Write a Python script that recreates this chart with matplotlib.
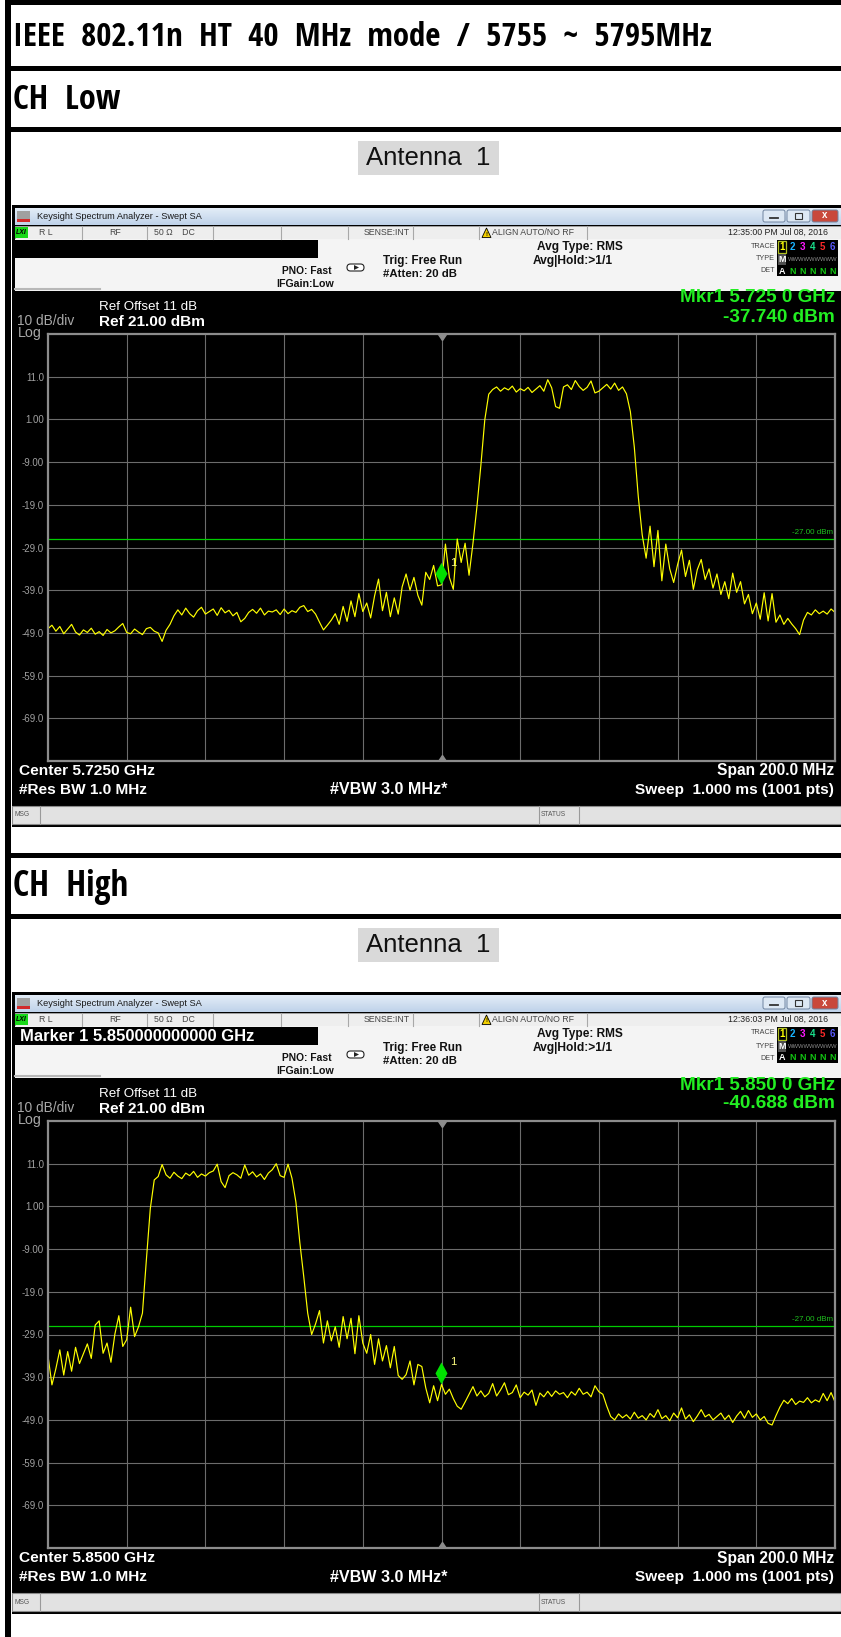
import numpy as np
import matplotlib.pyplot as plt
from matplotlib import font_manager
from matplotlib.patches import Rectangle, Polygon, FancyBboxPatch
from matplotlib.colors import to_rgb

W, H, DPI = 841, 1637, 100

# document text
DOC_TITLE = "IEEE  802.11n  HT  40  MHz  mode  /  5755  ~  5795MHz"
CHANNELS = ["CH  Low", "CH  High"]
ANTENNA = "Antenna  1"

# analyzer settings
CENTER_GHZ = [5.725, 5.850]
SPAN_MHZ = 200.0
REF_DBM = 21.0
DB_DIV = 10.0
LIMIT_DBM = -27.0
MKR_DBM = [-37.740, -40.688]
STAMPS = ["12:35:00 PM Jul 08, 2016", "12:36:03 PM Jul 08, 2016"]
MARKER_LINE = ["", "Marker 1 5.850000000000 GHz"]
Y_TICK_LABELS = ["11.0", "1.00", "-9.00", "-19.0", "-29.0", "-39.0", "-49.0", "-59.0", "-69.0"]

# trace 1, 1 MHz steps across the span (dBm)
TRACE_LOW = [
    -48.0, -47.2, -48.6, -47.5, -49.2, -48.1, -47.0, -48.8, -49.5, -48.3,
    -48.9, -47.9, -49.3, -48.7, -49.6, -48.2, -49.0, -48.5, -47.6, -46.8,
    -48.9, -49.2, -48.1, -48.8, -49.4, -48.0, -47.7, -48.6, -49.0, -51.0,
    -48.4, -47.0, -45.0, -43.6, -44.8, -43.2, -44.5, -45.3, -43.8, -43.0,
    -44.6, -44.0, -43.4, -44.9, -43.1, -44.3, -43.7, -45.0, -44.2, -46.4,
    -45.6, -44.2, -43.5, -44.4, -43.2, -44.8, -43.9, -44.1, -43.6, -44.7,
    -43.4, -44.5, -43.8, -44.2, -43.0, -42.6, -44.0, -43.5, -44.6, -46.5,
    -48.3, -47.2, -46.0, -44.5, -47.0, -42.8, -46.3, -41.5, -45.2, -39.8,
    -44.0, -42.0, -45.5, -40.3, -36.4, -43.8, -39.5, -45.2, -40.8, -44.6,
    -38.2, -35.2, -39.0, -36.0, -40.2, -42.5, -34.8, -36.5, -33.2, -38.0,
    -37.74, -28.2, -36.0, -38.8, -27.0, -32.5, -28.0, -35.5, -28.0, -19.5,
    -9.8, 0.9, 6.9, 8.0, 8.6, 7.6, 8.4, 7.9, 8.8, 7.4,
    8.2, 7.7, 8.5, 7.3, 8.1, 8.9, 7.6, 10.3, 8.4, 4.0,
    3.6, 8.6, 9.1, 8.0, 10.1, 8.7, 7.8, 8.5, 10.0, 7.2,
    7.6, 8.4, 9.2, 8.1, 9.5, 7.8, 8.6, 7.0, 2.8, -5.5,
    -17.0, -26.0, -31.5, -24.0, -33.5, -25.0, -36.8, -28.2, -34.0, -37.2,
    -33.0, -29.6, -35.8, -32.0, -38.8, -34.2, -31.8, -36.5, -34.0, -38.5,
    -35.2, -40.0, -37.0, -41.0, -35.0, -39.5, -37.0, -42.2, -40.0, -44.5,
    -42.0, -45.8, -39.6, -46.2, -39.8, -46.5, -44.8, -47.0, -45.6, -46.9,
    -48.0, -49.4, -46.0, -44.2, -44.8, -43.6, -44.5, -43.9, -44.6, -43.4,
    -44.2,
]

# trace 2, 1 MHz steps across the span (dBm)
TRACE_HIGH = [
    -34.0, -40.8, -37.0, -32.6, -38.5, -33.0, -37.6, -32.0, -35.8, -33.5,
    -31.2, -34.6, -26.8, -25.8, -33.4, -31.0, -35.5, -28.9, -24.6, -31.8,
    -30.2, -22.6, -29.5, -27.2, -24.0, -11.5, 0.5, 7.2, 8.0, 10.8,
    8.4, 7.6, 9.0, 8.1, 7.5, 8.8, 8.2, 9.2, 7.8, 8.6,
    8.1, 8.9, 9.3, 10.9, 6.8, 5.4, 8.2, 8.9, 8.4, 7.6,
    10.7, 8.3, 9.1, 7.9, 8.6, 7.3, 8.8, 9.6, 11.0, 8.2,
    7.8, 10.9, 7.6, 2.0, -7.5, -15.5, -24.0, -29.0, -26.5, -23.4,
    -31.0, -25.8, -30.5, -27.2, -32.0, -24.8, -30.0, -25.2, -33.5, -24.6,
    -31.0, -33.4, -29.0, -36.0, -30.0, -35.2, -31.6, -36.8, -31.8, -38.6,
    -39.5, -38.4, -35.2, -40.8, -36.0, -36.5, -41.5, -45.0, -41.0, -44.5,
    -40.688, -43.0, -41.8, -44.0, -45.8, -46.5, -44.8, -43.0, -41.2, -43.4,
    -42.2, -43.6, -42.8, -40.5, -43.4, -42.0, -40.3, -43.1, -42.6, -40.8,
    -43.8, -42.5, -43.2, -42.0, -45.6, -42.7, -43.6, -42.3, -43.5, -42.2,
    -43.0, -42.6, -43.8, -42.4, -43.2, -41.6, -43.0, -42.5, -43.6, -41.0,
    -42.4, -43.0, -45.8, -48.2, -49.0, -47.6, -48.5, -47.8, -48.8, -47.2,
    -48.6, -48.0, -49.0, -47.5, -48.4, -46.6, -48.7, -48.0, -49.2, -47.4,
    -48.5, -46.2, -48.8, -47.8, -49.4, -48.1, -46.6, -48.3, -47.7, -49.0,
    -48.2, -47.4, -48.9, -47.9, -49.6, -48.1, -47.0, -48.6, -46.8, -48.4,
    -47.6, -49.0, -48.2, -49.8, -50.2, -48.0, -46.0, -44.4, -45.2, -44.0,
    -45.4, -44.6, -44.9, -43.8, -45.0, -44.3, -44.8, -42.8, -44.5, -42.6,
    -44.8,
]
TRACES = [TRACE_LOW, TRACE_HIGH]

SANS = ["Liberation Sans", "DejaVu Sans"]

# headings use a condensed face when one is installed
_condensed = {f.name for f in font_manager.fontManager.ttflist if f.stretch == "condensed"}
_wanted = ["Liberation Sans Narrow", "Noto Sans Condensed", "Noto Sans",
           "Open Sans Condensed", "Roboto Condensed", "DejaVu Sans Condensed", "DejaVu Sans"]
NARROW = [n for n in _wanted if n in _condensed][:1] + SANS

fig = plt.figure(figsize=(W / DPI, H / DPI), dpi=DPI)
page = fig.add_axes([0, 0, 1, 1])
page.set_xlim(0, W)
page.set_ylim(H, 0)
page.axis("off")
renderer = fig.canvas.get_renderer()


def put(x, y, s, width=None, size=8, ha="left", va="center", family=SANS, **kw):
    t = page.text(x, y, s, ha=ha, va=va, fontsize=size, family=family, **kw)
    if width:
        w = t.get_window_extent(renderer).width
        t.set_fontsize(size * width / w)
    return t


def rect(x0, y0, x1, y1, fc, ec="none", lw=0.0):
    page.add_patch(Rectangle((x0, y0), x1 - x0, y1 - y0, fc=fc, ec=ec, lw=lw))


def mix(c1, c2, t):
    a, b = np.array(to_rgb(c1)), np.array(to_rgb(c2))
    return tuple(a + (b - a) * t)


def analyzer(k, top):
    r = lambda v: top + v
    center = CENTER_GHZ[k]
    span = SPAN_MHZ / 1000.0

    # window frame and title bar
    rect(12, r(0), W, r(622), "black")
    for i in range(17):
        rect(15, r(3 + i), W, r(4 + i), mix("#e2ecf7", "#bfd2e9", i / 16))
    rect(17, r(6), 30, r(17), "#a0a0a0")
    rect(17, r(14), 30, r(17), "#d22a2a")
    put(37, r(11.5), "Keysight Spectrum Analyzer - Swept SA", width=166, color="#1a1a1a")
    for x0, x1, fc in [(763, 785, "#dde8f4"), (787, 810, "#dde8f4"), (812, 838, "#c9483b")]:
        page.add_patch(FancyBboxPatch((x0, r(5)), x1 - x0, 12,
                                      boxstyle="round,pad=0,rounding_size=2",
                                      fc=fc, ec="#6f84a0", lw=0.7))
    page.plot([770, 778], [r(13), r(13)], color="#333333", lw=1.3)
    rect(795, r(8), 802, r(14), "none", ec="#333333", lw=0.8)
    put(825, r(10.5), "x", ha="center", color="white", weight="bold", size=7)

    # status row
    rect(15, r(21), W, r(34), "#eeeeee", ec="#a8a8a8", lw=0.6)
    for x in [82, 147, 213, 281, 348, 413, 479, 587]:
        page.plot([x, x], [r(21), r(34)], color="#a8a8a8", lw=0.8)
    rect(15, r(22), 28, r(33), "#18d818")
    put(21.5, r(27.5), "LXI", ha="center", size=5, weight="bold", style="italic")
    row = dict(size=6.3, color="#454545")
    put(39, r(27.5), "R L", **row)
    put(115, r(27.5), "RF", ha="center", **row)
    put(154, r(27.5), "50 \u03a9    DC", **row)
    put(364, r(27.5), "SENSE:INT", **row)
    page.add_patch(Polygon([(482, r(32.5)), (491, r(32.5)), (486.5, r(23))],
                           fc="#f2cf00", ec="black", lw=0.6))
    put(486.5, r(29), "!", ha="center", size=4.5, weight="bold")
    put(492, r(27.5), "ALIGN AUTO/NO RF", **row)
    put(828, r(27.5), STAMPS[k], ha="right", size=6.3, color="#222222")

    # settings strip
    rect(15, r(34), W, r(86), "#f4f4f4")
    page.plot([15, 100], [r(84), r(84)], color="#b8b8b8", lw=1.5)
    rect(15, r(35), 318, r(53), "black")
    if MARKER_LINE[k]:
        put(20, r(44.5), MARKER_LINE[k], width=238, weight="bold", color="white")
    bold = dict(weight="bold", color="#111111")
    put(332, r(66), "PNO: Fast", ha="right", width=50, **bold)
    put(334, r(79), "IFGain:Low", ha="right", width=58, **bold)
    page.add_patch(FancyBboxPatch((347, r(59)), 17, 7, boxstyle="round,pad=0,rounding_size=3.5",
                                  fc="white", ec="#222222", lw=0.8))
    page.add_patch(Polygon([(354, r(60)), (354, r(65)), (359, r(62.5))], fc="#222222"))
    put(383, r(56), "Trig: Free Run", width=79, **bold)
    put(383, r(69), "#Atten: 20 dB", width=74, **bold)
    put(537, r(42), "Avg Type: RMS", width=86, **bold)
    put(533, r(56), "Avg|Hold:>1/1", width=80, **bold)

    # trace indicator box
    put(775, r(41), "TRACE", ha="right", size=5.2, color="#444444")
    put(775, r(54), "TYPE", ha="right", size=5.2, color="#444444")
    put(775, r(66), "DET", ha="right", size=5.2, color="#444444")
    rect(777, r(35), 838, r(71), "black")
    xs = [782, 792.5, 802.5, 812.5, 822.5, 832.5]
    cols = ["#ffff00", "#19b4ff", "#ff19ff", "#19e08c", "#ff2a2a", "#5a5aff"]
    rect(778, r(36), 786, r(48), "none", ec="#b0c020", lw=0.9)
    for x, c, n in zip(xs, cols, "123456"):
        put(x, r(42), n, ha="center", size=7, weight="bold", color=c)
    rect(778, r(49), 786, r(60), "#505050")
    put(782, r(54.5), "M", ha="center", size=6.5, weight="bold", color="white")
    put(788, r(54.5), "WWWWWWWWW", size=4.2, color="#8a8a8a")
    put(782, r(66), "A", ha="center", size=6.5, weight="bold", color="white")
    for x in xs[1:]:
        put(x, r(66), "N", ha="center", size=6.5, weight="bold", color="#12c812")

    # reference and marker readouts
    put(99, r(102), "Ref Offset 11 dB", width=98, color="white")
    put(99, r(117), f"Ref {REF_DBM:.2f} dBm", width=107, weight="bold", color="white")
    put(17, r(116), "10 dB/div", width=58, color="#a8a8a8")
    put(18, r(128), "Log", width=24, color="#a8a8a8")
    green = "#22ee22"
    put(835, r(93), f"Mkr1 {center:.3f} 0 GHz", ha="right", width=157, weight="bold", color=green)
    put(835, r(112), f"{MKR_DBM[k]:.3f} dBm", ha="right", width=113, weight="bold", color=green)

    # footer
    wb = dict(weight="bold", color="white")
    put(19, r(566), f"Center {center:.4f} GHz", width=137, **wb)
    put(19, r(585), "#Res BW 1.0 MHz", width=129, **wb)
    put(389, r(585), "#VBW 3.0 MHz*", ha="center", width=118, **wb)
    put(834, r(566), f"Span {SPAN_MHZ:.1f} MHz", ha="right", width=118, **wb)
    put(834, r(585), "Sweep  1.000 ms (1001 pts)", ha="right", width=199, **wb)
    rect(12, r(601), W, r(619), "#e2e2e2", ec="#8a8a8a", lw=0.8)
    for x in [40, 539, 579]:
        page.plot([x, x], [r(601), r(619)], color="#9a9a9a", lw=0.8)
    put(15, r(610), "MSG", size=4.8, color="#555555")
    put(541, r(610), "STATUS", size=4.8, color="#555555")

    # graticule
    ax = fig.add_axes([48 / W, 1 - r(556) / H, 787 / W, 427 / H])
    ax.set_facecolor("black")
    f0, f1 = center - span / 2, center + span / 2
    trace = TRACES[k]
    freqs = np.linspace(f0, f1, len(trace))
    bottom = REF_DBM - 10 * DB_DIV
    ax.set_xlim(f0, f1)
    ax.set_ylim(bottom, REF_DBM)
    ax.set_xticks(np.linspace(f0, f1, 11)[1:-1])
    ax.set_yticks(REF_DBM - DB_DIV * np.arange(1, 10), labels=Y_TICK_LABELS)
    ax.grid(True, color="#6c6c6c", lw=0.8)
    ax.tick_params(length=0, labelbottom=False, pad=3, labelsize=7, labelcolor="#a0a0a0")
    for lab in ax.get_yticklabels():
        lab.set_family(SANS)
    for sp in ax.spines.values():
        sp.set_color("#8c8c8c")
        sp.set_linewidth(1.6)
    ax.plot(center, REF_DBM, marker=11, ms=6, color="#8c8c8c", clip_on=False)
    ax.plot(center, bottom, marker=10, ms=6, color="#8c8c8c", clip_on=False)

    ax.axhline(LIMIT_DBM, color="#00cc00", lw=0.9)
    ax.text(0.997, LIMIT_DBM + 0.6, f"{LIMIT_DBM:.2f} dBm", transform=ax.get_yaxis_transform(),
            ha="right", va="bottom", fontsize=5.8, color="#1fc01f", family=SANS)
    ax.plot(freqs, trace, color="#ffff00", lw=0.85)

    # marker 1: diamond sitting on the trace value
    v = MKR_DBM[k]
    dx = span / 787 * 6
    hh = 100 / 427 * 11
    ax.add_patch(Polygon([(center, v), (center + dx, v + hh), (center, v + 2 * hh),
                          (center - dx, v + hh)], fc="#00e000", ec="none", zorder=5))
    ax.text(center + span / 787 * 9, v + 5.2, "1", fontsize=8, color="#ffff80",
            ha="left", va="center", family=SANS)


# document table
rect(5, 0, 11, H, "black")
rect(5, 0, W, 5, "black")
for y in [66, 127, 853, 914]:
    rect(5, y, W, y + 5, "black")
put(13, 38, DOC_TITLE, width=700, family=NARROW, weight="bold", stretch="condensed")

for k, off in enumerate([0, 787]):
    put(13, 100 + off, CHANNELS[k], width=108 + 8 * k, family=NARROW, weight="bold",
        stretch="condensed")
    rect(358, 141 + off, 499, 175 + off, "#d9d9d9")
    put(428.5, 158 + off, ANTENNA, ha="center", width=126, color="#111111")
    analyzer(k, 205 + off)

fig.savefig("out.png", dpi=DPI)
